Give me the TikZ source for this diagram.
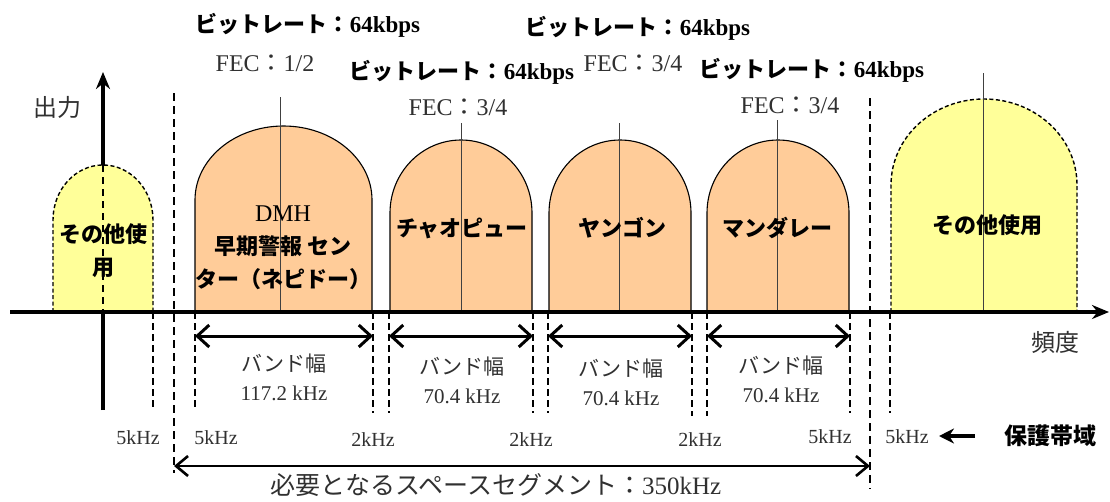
\documentclass[tikz,border=0pt]{standalone}
\usepackage{fontspec}
\setmainfont{Liberation Serif}
\newfontfamily\jp{Noto Sans CJK JP}
\usetikzlibrary{arrows.meta}
\definecolor{bumporange}{HTML}{FFCC99}
\definecolor{bumpyellow}{HTML}{FFFF99}
\definecolor{txtgray}{HTML}{303030}
\begin{document}
\begin{tikzpicture}[x=1pt,y=-1pt,
  bump/.style={draw=black, line width=1.1pt, fill=bumporange},
  otheruse/.style={draw=black, line width=1.4pt, dash pattern=on 4pt off 2.5pt, fill=bumpyellow},
  cline/.style={draw=black!75, line width=0.8pt},
  guard/.style={line width=2.6pt, dash pattern=on 7pt off 4pt},
  longguard/.style={line width=2.7pt, dash pattern=on 8pt off 5pt},
  bwarrow/.style={line width=3pt, {Straight Barb[length=12pt,width=22pt]}-{Straight Barb[length=12pt,width=22pt]}},
  segarrow/.style={line width=2.6pt, {Straight Barb[length=12pt,width=20pt]}-{Straight Barb[length=12pt,width=20pt]}},
  axis/.style={line width=3.2pt, -{Stealth[length=17pt,width=14pt]}},
  rate/.style={inner sep=0pt, font=\fontsize{22}{26}\selectfont, text=black},
  fec/.style={inner sep=0pt, font=\fontsize{24}{26}\selectfont, text=txtgray},
  bandlbl/.style={inner sep=0pt, align=center, font=\fontsize{21}{29}\selectfont, text=txtgray},
  khz/.style={inner sep=0pt, font=\fontsize{20}{22}\selectfont, text=txtgray},
  chlbl/.style={inner sep=0pt, align=center, font=\jp\bfseries\fontsize{22}{33}\selectfont, text=black},
  axlbl/.style={inner sep=0pt, font=\jp\fontsize{24}{26}\selectfont, text=txtgray}
]
\useasboundingbox (0,0) rectangle (1110,501);

% vertical axis (under the left bump)
\coordinate (ya0) at (103,410);
\coordinate (ya1) at (103,72);
\draw[axis] (ya0) -- (ya1);

% bumps
\path[otheruse] (53,312) -- (53,220) arc[start angle=180, end angle=0, x radius=50pt, y radius=55pt] -- (153,312);
\draw[line width=2.6pt, dash pattern=on 7pt off 5pt] (103,165) -- (103,312);
\path[bump] (195,312) -- (195,200) arc[start angle=180, end angle=0, x radius=88.5pt, y radius=74pt] -- (372,312);
\path[bump] (390,312) -- (390,213) arc[start angle=180, end angle=0, x radius=71pt, y radius=73pt] -- (532,312);
\path[bump] (549,312) -- (549,213) arc[start angle=180, end angle=0, x radius=71pt, y radius=73pt] -- (691,312);
\path[bump] (707,312) -- (707,213) arc[start angle=180, end angle=0, x radius=71pt, y radius=73pt] -- (849,312);
\path[otheruse] (891,312) -- (891,185) arc[start angle=180, end angle=0, x radius=93pt, y radius=86pt] -- (1077,312);

% centre lines
\draw[cline] (280,97) -- (280,312);
\draw[cline] (461,123) -- (461,312);
\draw[cline] (619,123) -- (619,312);
\draw[cline] (777,120) -- (777,312);
\draw[cline] (983,73) -- (983,312);

% horizontal axis
\coordinate (xa0) at (10,312);
\coordinate (xa1) at (1109,312);
\draw[axis] (xa0) -- (xa1);

% guard lines
\coordinate (gL1) at (174,93);   \coordinate (gL2) at (174,473);
\coordinate (gR1) at (870,98);   \coordinate (gR2) at (870,489);
\draw[longguard] (gL1) -- (gL2);
\draw[longguard] (gR1) -- (gR2);
\foreach \gx/\gy in {153/410,195/408,373/413,389/413,533/413,548/413,692/416,707/416,850/413,890/413}
  \draw[guard] (\gx,312) -- (\gx,\gy);

% bandwidth arrows
\coordinate (b1a) at (195,336); \coordinate (b1b) at (373,336);
\coordinate (b2a) at (389,336); \coordinate (b2b) at (533,336);
\coordinate (b3a) at (548,336); \coordinate (b3b) at (692,336);
\coordinate (b4a) at (707,336); \coordinate (b4b) at (850,336);
\draw[bwarrow] (b1a) -- (b1b);
\draw[bwarrow] (b2a) -- (b2b);
\draw[bwarrow] (b3a) -- (b3b);
\draw[bwarrow] (b4a) -- (b4b);

% segment arrow
\coordinate (s1) at (174,466); \coordinate (s2) at (870,466);
\draw[segarrow] (s1) -- (s2);
\node[inner sep=0pt, text=txtgray, font=\fontsize{25}{28}\selectfont] (seg) at (496,485) {{\jp 必要となるスペースセグメント：}350kHz};

% top labels
\node[rate] (r1) at (308,25) {{\jp\bfseries ビットレート：}{\fontsize{23}{26}\selectfont\bfseries 64kbps}};
\node[rate] (r2) at (638,28) {{\jp\bfseries ビットレート：}{\fontsize{23}{26}\selectfont\bfseries 64kbps}};
\node[rate] (r3) at (462,72) {{\jp\bfseries ビットレート：}{\fontsize{23}{26}\selectfont\bfseries 64kbps}};
\node[rate] (r4) at (812,70) {{\jp\bfseries ビットレート：}{\fontsize{23}{26}\selectfont\bfseries 64kbps}};
\node[fec] (f1) at (265,63) {FEC{\jp ：}1/2};
\node[fec] (f2) at (633,63) {FEC{\jp ：}3/4};
\node[fec] (f3) at (458,107) {FEC{\jp ：}3/4};
\node[fec] (f4) at (790,105) {FEC{\jp ：}3/4};

% channel labels
\node[chlbl] (c0) at (103,251) {その他使\\用};
\node[chlbl] (c1) at (283,248) {{\fontspec{Liberation Serif}\mdseries\fontsize{24}{33}\selectfont DMH}\\早期警報 セン\\ター（ネピドー）};
\node[chlbl] (c2) at (462,228) {チャオピュー};
\node[chlbl] (c3) at (622,228) {ヤンゴン};
\node[chlbl] (c4) at (777,228) {マンダレー};
\node[chlbl] (c5) at (987,225) {その他使用};

% band labels
\node[bandlbl] (w1) at (284,377) {{\jp バンド幅}\\117.2 kHz};
\node[bandlbl] (w2) at (462,380) {{\jp バンド幅}\\70.4 kHz};
\node[bandlbl] (w3) at (621,382) {{\jp バンド幅}\\70.4 kHz};
\node[bandlbl] (w4) at (781,379) {{\jp バンド幅}\\70.4 kHz};

% guard band labels
\node[khz] (k1) at (138,438) {5kHz};
\node[khz] (k2) at (216,438) {5kHz};
\node[khz] (k3) at (373,440) {2kHz};
\node[khz] (k4) at (531,440) {2kHz};
\node[khz] (k5) at (700,440) {2kHz};
\node[khz] (k6) at (830,437) {5kHz};
\node[khz] (k7) at (907,437) {5kHz};
\node[inner sep=0pt, font=\jp\bfseries\fontsize{23}{26}\selectfont] (guardlbl) at (1050,436) {保護帯域};
\coordinate (pa1) at (975,436); \coordinate (pa2) at (939,436);
\draw[line width=3.2pt, -{Stealth[length=15pt,width=15pt]}] (pa1) -- (pa2);

% axis labels
\node[axlbl] (out) at (57,107) {出力};
\node[axlbl] (freq) at (1055,342) {頻度};
\end{tikzpicture}
\end{document}
